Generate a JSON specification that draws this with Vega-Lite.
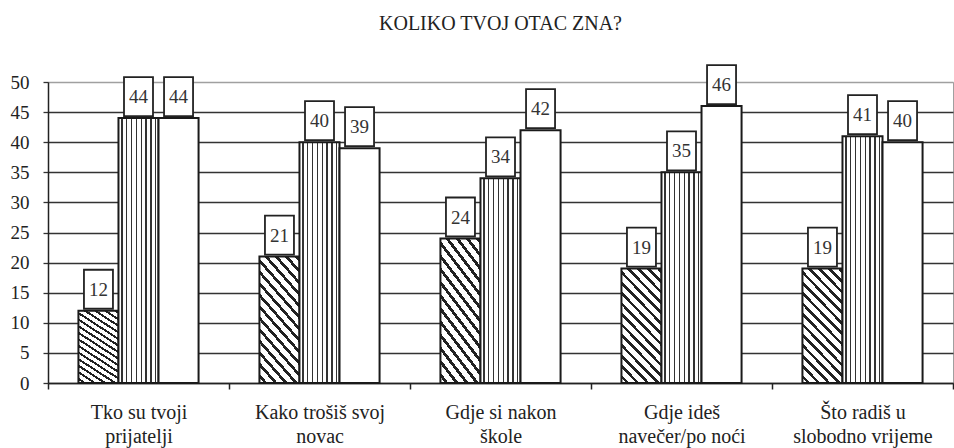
{
  "$schema": "https://vega.github.io/schema/vega-lite/v6.json",
  "width": 905,
  "height": 301,
  "autosize": {"type": "none"},
  "padding": {"left": 48, "top": 82, "right": 1, "bottom": 65},
  "background": "white",
  "config": {
    "font": "serif",
    "view": {"stroke": "#a0a0a0", "strokeWidth": 1}
  },
  "title": {
    "text": "KOLIKO TVOJ OTAC ZNA?",
    "font": "serif",
    "fontSize": 20,
    "fontWeight": "normal",
    "color": "#222222",
    "anchor": "middle",
    "offset": 30
  },
  "data": {
    "values": [
      {"pitanje": "Tko su tvoji\nprijatelji", "serija": "serija 1", "postotak": 12},
      {"pitanje": "Tko su tvoji\nprijatelji", "serija": "serija 2", "postotak": 44},
      {"pitanje": "Tko su tvoji\nprijatelji", "serija": "serija 3", "postotak": 44},
      {"pitanje": "Kako trošiš svoj\nnovac", "serija": "serija 1", "postotak": 21},
      {"pitanje": "Kako trošiš svoj\nnovac", "serija": "serija 2", "postotak": 40},
      {"pitanje": "Kako trošiš svoj\nnovac", "serija": "serija 3", "postotak": 39},
      {"pitanje": "Gdje si nakon\nškole", "serija": "serija 1", "postotak": 24},
      {"pitanje": "Gdje si nakon\nškole", "serija": "serija 2", "postotak": 34},
      {"pitanje": "Gdje si nakon\nškole", "serija": "serija 3", "postotak": 42},
      {"pitanje": "Gdje ideš\nnavečer/po noći", "serija": "serija 1", "postotak": 19},
      {"pitanje": "Gdje ideš\nnavečer/po noći", "serija": "serija 2", "postotak": 35},
      {"pitanje": "Gdje ideš\nnavečer/po noći", "serija": "serija 3", "postotak": 46},
      {"pitanje": "Što radiš u\nslobodno vrijeme", "serija": "serija 1", "postotak": 19},
      {"pitanje": "Što radiš u\nslobodno vrijeme", "serija": "serija 2", "postotak": 41},
      {"pitanje": "Što radiš u\nslobodno vrijeme", "serija": "serija 3", "postotak": 40}
    ]
  },
  "encoding": {
    "x": {
      "field": "pitanje",
      "type": "nominal",
      "sort": null,
      "scale": {"paddingInner": 0, "paddingOuter": 0},
      "axis": {
        "title": null,
        "labelExpr": "split(datum.label, '\\n')",
        "labelAngle": 0,
        "labelFont": "serif",
        "labelFontSize": 20,
        "labelLineHeight": 24,
        "labelColor": "#222222",
        "labelPadding": 13,
        "tickBand": "extent",
        "tickSize": 6,
        "tickWidth": 1.5,
        "tickColor": "#222222",
        "domainColor": "#222222",
        "domainWidth": 1.5,
        "grid": false
      }
    },
    "xOffset": {
      "field": "serija",
      "type": "nominal",
      "scale": {"domain": ["serija 1", "serija 2", "serija 3"], "paddingInner": 0, "paddingOuter": 0.76}
    },
    "y": {
      "field": "postotak",
      "type": "quantitative",
      "scale": {"domain": [0, 50], "nice": false},
      "axis": {
        "title": null,
        "values": [0, 5, 10, 15, 20, 25, 30, 35, 40, 45, 50],
        "grid": true,
        "gridColor": {"condition": {"test": "datum.value == 50", "value": "#a0a0a0"}, "value": "#333333"},
        "gridWidth": 1.3,
        "labelFont": "serif",
        "labelFontSize": 19,
        "labelColor": "#222222",
        "labelPadding": 14,
        "tickSize": 5,
        "tickWidth": 1.3,
        "tickColor": "#333333",
        "domainColor": "#222222",
        "domainWidth": 1.5
      }
    }
  },
  "layer": [
    {
      "mark": {"type": "bar", "stroke": "#1a1a1a", "strokeWidth": 2},
      "encoding": {
        "fill": {
          "condition": [
            {
              "test": "datum.serija == 'serija 1'",
              "value": {
                "gradient": "linear",
                "x1": 0, "y1": 1, "x2": 0.4356, "y2": -0.21,
                "stops": [
                  {"offset": 0, "color": "white"},
                  {"offset": 0.03, "color": "white"}, {"offset": 0.03, "color": "#222222"}, {"offset": 0.054, "color": "#222222"}, {"offset": 0.054, "color": "white"},
                  {"offset": 0.0967, "color": "white"}, {"offset": 0.0967, "color": "#222222"}, {"offset": 0.1207, "color": "#222222"}, {"offset": 0.1207, "color": "white"},
                  {"offset": 0.1633, "color": "white"}, {"offset": 0.1633, "color": "#222222"}, {"offset": 0.1873, "color": "#222222"}, {"offset": 0.1873, "color": "white"},
                  {"offset": 0.23, "color": "white"}, {"offset": 0.23, "color": "#222222"}, {"offset": 0.254, "color": "#222222"}, {"offset": 0.254, "color": "white"},
                  {"offset": 0.2967, "color": "white"}, {"offset": 0.2967, "color": "#222222"}, {"offset": 0.3207, "color": "#222222"}, {"offset": 0.3207, "color": "white"},
                  {"offset": 0.3633, "color": "white"}, {"offset": 0.3633, "color": "#222222"}, {"offset": 0.3873, "color": "#222222"}, {"offset": 0.3873, "color": "white"},
                  {"offset": 0.43, "color": "white"}, {"offset": 0.43, "color": "#222222"}, {"offset": 0.454, "color": "#222222"}, {"offset": 0.454, "color": "white"},
                  {"offset": 0.4967, "color": "white"}, {"offset": 0.4967, "color": "#222222"}, {"offset": 0.5207, "color": "#222222"}, {"offset": 0.5207, "color": "white"},
                  {"offset": 0.5633, "color": "white"}, {"offset": 0.5633, "color": "#222222"}, {"offset": 0.5873, "color": "#222222"}, {"offset": 0.5873, "color": "white"},
                  {"offset": 0.63, "color": "white"}, {"offset": 0.63, "color": "#222222"}, {"offset": 0.654, "color": "#222222"}, {"offset": 0.654, "color": "white"},
                  {"offset": 0.6967, "color": "white"}, {"offset": 0.6967, "color": "#222222"}, {"offset": 0.7207, "color": "#222222"}, {"offset": 0.7207, "color": "white"},
                  {"offset": 0.7633, "color": "white"}, {"offset": 0.7633, "color": "#222222"}, {"offset": 0.7873, "color": "#222222"}, {"offset": 0.7873, "color": "white"},
                  {"offset": 0.83, "color": "white"}, {"offset": 0.83, "color": "#222222"}, {"offset": 0.854, "color": "#222222"}, {"offset": 0.854, "color": "white"},
                  {"offset": 0.8967, "color": "white"}, {"offset": 0.8967, "color": "#222222"}, {"offset": 0.9207, "color": "#222222"}, {"offset": 0.9207, "color": "white"},
                  {"offset": 0.9633, "color": "white"}, {"offset": 0.9633, "color": "#222222"}, {"offset": 0.9873, "color": "#222222"}, {"offset": 0.9873, "color": "white"},
                  {"offset": 1, "color": "white"}
                ]
              }
            },
            {
              "test": "datum.serija == 'serija 2'",
              "value": {
                "gradient": "linear",
                "x1": 0, "y1": 0, "x2": 1, "y2": 0,
                "stops": [
                  {"offset": 0, "color": "white"},
                  {"offset": 0.07, "color": "white"}, {"offset": 0.07, "color": "#333333"}, {"offset": 0.105, "color": "#333333"}, {"offset": 0.105, "color": "white"},
                  {"offset": 0.19, "color": "white"}, {"offset": 0.19, "color": "#333333"}, {"offset": 0.225, "color": "#333333"}, {"offset": 0.225, "color": "white"},
                  {"offset": 0.31, "color": "white"}, {"offset": 0.31, "color": "#333333"}, {"offset": 0.345, "color": "#333333"}, {"offset": 0.345, "color": "white"},
                  {"offset": 0.43, "color": "white"}, {"offset": 0.43, "color": "#333333"}, {"offset": 0.465, "color": "#333333"}, {"offset": 0.465, "color": "white"},
                  {"offset": 0.55, "color": "white"}, {"offset": 0.55, "color": "#333333"}, {"offset": 0.585, "color": "#333333"}, {"offset": 0.585, "color": "white"},
                  {"offset": 0.67, "color": "white"}, {"offset": 0.67, "color": "#333333"}, {"offset": 0.705, "color": "#333333"}, {"offset": 0.705, "color": "white"},
                  {"offset": 0.79, "color": "white"}, {"offset": 0.79, "color": "#333333"}, {"offset": 0.825, "color": "#333333"}, {"offset": 0.825, "color": "white"},
                  {"offset": 0.905, "color": "white"}, {"offset": 0.905, "color": "#333333"}, {"offset": 0.94, "color": "#333333"}, {"offset": 0.94, "color": "white"},
                  {"offset": 1, "color": "white"}
                ]
              }
            }
          ],
          "value": "white"
        }
      }
    },
    {
      "mark": {"type": "bar", "width": 29, "yOffset": -41, "y2Offset": -2, "fill": "white", "stroke": "#222222", "strokeWidth": 1.8},
      "encoding": {
        "y2": {"field": "postotak"}
      }
    },
    {
      "mark": {"type": "text", "dy": -21, "baseline": "middle", "align": "center", "fontSize": 19, "color": "#333333", "font": "serif"},
      "encoding": {
        "text": {"field": "postotak", "type": "quantitative"}
      }
    }
  ]
}
